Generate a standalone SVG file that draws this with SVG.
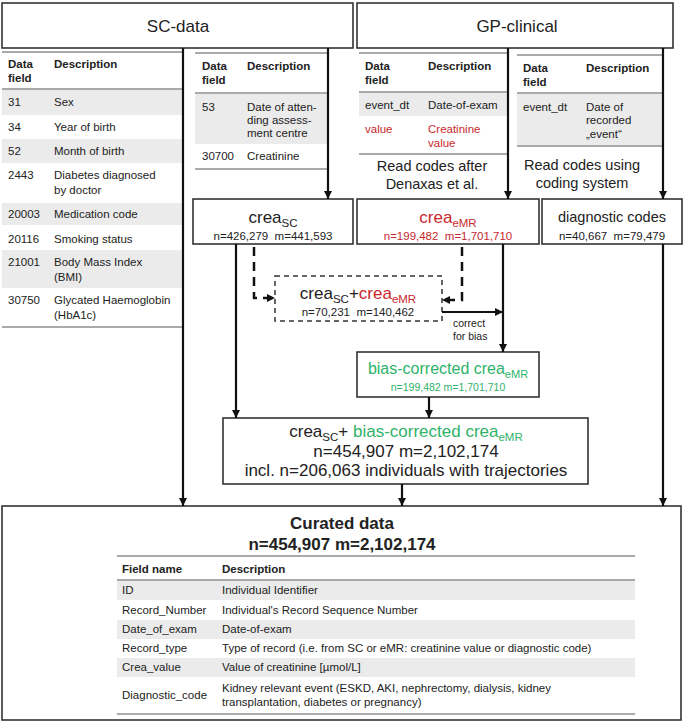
<svg xmlns="http://www.w3.org/2000/svg" width="685" height="724" viewBox="0 0 685 724">
<defs>
<marker id="ah" viewBox="0 0 10 10" refX="10" refY="5" markerWidth="8" markerHeight="9" markerUnits="userSpaceOnUse" orient="auto">
<path d="M0,0 L10,5 L0,10 z" fill="#111"/>
</marker>
<style>
text{font-family:"Liberation Sans",Arial,sans-serif;fill:#222}
.t{font-size:11.5px}
.h{font-size:11.5px;font-weight:bold}
.big{font-size:17px}
.mid{font-size:14.5px}
.red{fill:#c8282d}
.grn{fill:#2fb36a}
.box{fill:#fff;stroke:#333;stroke-width:1.6}
.dbox{fill:#fff;stroke:#333;stroke-width:1.5;stroke-dasharray:5 4}
.sh{fill:#ebebeb}
.gl{stroke:#aaa;stroke-width:2}
.c{fill:none;stroke:#111;stroke-width:2.2;marker-end:url(#ah)}
.d{fill:none;stroke:#111;stroke-width:2.5;stroke-dasharray:9 6;marker-end:url(#ah)}
.m{text-anchor:middle}
</style>
</defs>
<rect width="685" height="724" fill="#fff"/>

<g id="sc-data">
<rect class="box" x="2" y="3" width="351" height="45"/>
<text class="big m" x="178" y="32">SC-data</text>
</g>
<g id="gp-clinical">
<rect class="box" x="357" y="3" width="316" height="45"/>
<text class="big m" x="517" y="32">GP-clinical</text>
</g>

<g id="sc-table-left">
<rect class="sh" x="2" y="89" width="181" height="26"/>
<rect class="sh" x="2" y="139" width="181" height="24"/>
<rect class="sh" x="2" y="203" width="181" height="22"/>
<rect class="sh" x="2" y="250" width="181" height="38"/>
<line class="gl" x1="2" y1="52" x2="183" y2="52"/>
<line class="gl" x1="2" y1="89" x2="183" y2="89"/>
<line class="gl" x1="2" y1="327" x2="183" y2="327"/>
<text class="h" x="8" y="68">Data</text><text class="h" x="8" y="82">field</text>
<text class="h" x="54" y="68">Description</text>
<text class="t" x="8" y="106">31</text><text class="t" x="54" y="106">Sex</text>
<text class="t" x="8" y="131">34</text><text class="t" x="54" y="131">Year of birth</text>
<text class="t" x="8" y="155">52</text><text class="t" x="54" y="155">Month of birth</text>
<text class="t" x="8" y="179">2443</text><text class="t" x="54" y="179">Diabetes diagnosed</text><text class="t" x="54" y="194">by doctor</text>
<text class="t" x="8" y="218">20003</text><text class="t" x="54" y="218">Medication code</text>
<text class="t" x="8" y="243">20116</text><text class="t" x="54" y="243">Smoking status</text>
<text class="t" x="8" y="266">21001</text><text class="t" x="54" y="266">Body Mass Index</text><text class="t" x="54" y="281">(BMI)</text>
<text class="t" x="8" y="304">30750</text><text class="t" x="54" y="304">Glycated Haemoglobin</text><text class="t" x="54" y="319">(HbA1c)</text>
</g>

<g id="sc-table-mid">
<rect class="sh" x="195" y="93" width="132" height="51"/>
<line class="gl" x1="195" y1="53" x2="327" y2="53"/>
<line class="gl" x1="195" y1="93" x2="327" y2="93"/>
<line class="gl" x1="195" y1="169" x2="327" y2="169"/>
<text class="h" x="202" y="70">Data</text><text class="h" x="202" y="84">field</text>
<text class="h" x="247" y="70">Description</text>
<text class="t" x="202" y="111">53</text><text class="t" x="247" y="111">Date of atten-</text><text class="t" x="247" y="124">ding assess-</text><text class="t" x="247" y="137">ment centre</text>
<text class="t" x="202" y="160">30700</text><text class="t" x="247" y="160">Creatinine</text>
</g>

<g id="gp-table-mid">
<rect class="sh" x="359" y="92" width="148" height="24"/>
<line class="gl" x1="359" y1="53" x2="507" y2="53"/>
<line class="gl" x1="359" y1="92" x2="507" y2="92"/>
<line class="gl" x1="359" y1="154" x2="507" y2="154"/>
<text class="h" x="365" y="70">Data</text><text class="h" x="365" y="84">field</text>
<text class="h" x="428" y="70">Description</text>
<text class="t" x="365" y="109">event_dt</text><text class="t" x="428" y="109">Date-of-exam</text>
<text class="t red" x="365" y="133">value</text><text class="t red" x="428" y="133">Creatinine</text><text class="t red" x="428" y="147">value</text>
<text class="mid m" x="432" y="171">Read codes after</text>
<text class="mid m" x="432" y="189">Denaxas et al.</text>
</g>

<g id="gp-table-right">
<rect class="sh" x="517" y="93" width="146" height="53"/>
<line class="gl" x1="517" y1="55" x2="663" y2="55"/>
<line class="gl" x1="517" y1="93" x2="663" y2="93"/>
<line class="gl" x1="517" y1="146" x2="663" y2="146"/>
<text class="h" x="523" y="72">Data</text><text class="h" x="523" y="86">field</text>
<text class="h" x="586" y="72">Description</text>
<text class="t" x="523" y="111">event_dt</text><text class="t" x="586" y="111">Date of</text><text class="t" x="586" y="124">recorded</text><text class="t" x="586" y="138">„event“</text>
<text class="mid m" x="582" y="170">Read codes using</text>
<text class="mid m" x="582" y="188">coding system</text>
</g>

<g id="crea-sc">
<rect class="box" x="193" y="199" width="160" height="45"/>
<text class="big m" x="273" y="223">crea<tspan font-size="11.5" dy="4">SC</tspan></text>
<text class="t m" x="273" y="240">n=426,279&#160;&#160;m=441,593</text>
</g>

<g id="crea-emr">
<rect class="box" x="357" y="199" width="182" height="45"/>
<text class="big m red" x="448" y="223">crea<tspan font-size="11.5" dy="4">eMR</tspan></text>
<text class="t m red" x="448" y="240">n=199,482&#160;&#160;m=1,701,710</text>
</g>

<g id="diagnostic-codes">
<rect class="box" x="542" y="199" width="140" height="45"/>
<text class="m" x="612" y="222" font-size="14.5">diagnostic codes</text>
<text class="t m" x="612" y="240">n=40,667&#160;&#160;m=79,479</text>
</g>

<g id="crea-sc-emr">
<rect class="dbox" x="275" y="276" width="167" height="45"/>
<text class="big m" x="358" y="299">crea<tspan font-size="11.5" dy="4">SC</tspan><tspan dy="-4">+</tspan><tspan class="red">crea</tspan><tspan class="red" font-size="11.5" dy="4">eMR</tspan></text>
<text class="t m" x="358" y="316">n=70,231&#160;&#160;m=140,462</text>
</g>

<g id="bias-corrected">
<rect class="box" x="357" y="352" width="182" height="45"/>
<text class="m grn" x="448" y="374" font-size="16">bias-corrected crea<tspan font-size="11" dy="4">eMR</tspan></text>
<text class="m grn" x="448" y="391" font-size="10.5">n=199,482 m=1,701,710</text>
</g>

<g id="combined">
<rect class="box" x="223" y="418" width="365" height="66"/>
<text class="big m" x="406" y="437">crea<tspan font-size="11.5" dy="4">SC</tspan><tspan dy="-4">+&#160;</tspan><tspan class="grn">bias-corrected crea</tspan><tspan class="grn" font-size="11.5" dy="4">eMR</tspan></text>
<text class="big m" x="406" y="457">n=454,907 m=2,102,174</text>
<text class="big m" x="406" y="476">incl. n=206,063 individuals with trajectories</text>
</g>

<g id="curated-data">
<rect class="box" x="2" y="506" width="679" height="214"/>
<text class="m" x="342" y="529" font-size="17" font-weight="bold">Curated data</text>
<text class="m" x="342" y="550" font-size="17" font-weight="bold">n=454,907 m=2,102,174</text>
<rect class="sh" x="117" y="580" width="518" height="20"/>
<rect class="sh" x="117" y="620" width="518" height="19"/>
<rect class="sh" x="117" y="658" width="518" height="19"/>
<line class="gl" x1="117" y1="556" x2="635" y2="556"/>
<line class="gl" x1="117" y1="580" x2="635" y2="580"/>
<line class="gl" x1="117" y1="714" x2="635" y2="714" stroke-width="2.5"/>
<text class="h" x="122" y="573">Field name</text><text class="h" x="222" y="573">Description</text>
<text class="t" x="122" y="594">ID</text><text class="t" x="222" y="594">Individual Identifier</text>
<text class="t" x="122" y="614">Record_Number</text><text class="t" x="222" y="614">Individual's Record Sequence Number</text>
<text class="t" x="122" y="633">Date_of_exam</text><text class="t" x="222" y="633">Date-of-exam</text>
<text class="t" x="122" y="652">Record_type</text><text class="t" x="222" y="652">Type of record (i.e. from SC or eMR: creatinine value or diagnostic code)</text>
<text class="t" x="122" y="671">Crea_value</text><text class="t" x="222" y="671">Value of creatinine [µmol/L]</text>
<text class="t" x="122" y="699">Diagnostic_code</text><text class="t" x="222" y="692">Kidney relevant event (ESKD, AKI, nephrectomy, dialysis, kidney</text><text class="t" x="222" y="706">transplantation, diabetes or pregnancy)</text>
</g>

<g id="connectors">
<path class="c" d="M183,48 V506"/>
<path class="c" d="M328,48 V199"/>
<path class="c" d="M508,48 V199"/>
<path class="c" d="M663,48 V199"/>
<path class="c" d="M236,244 V418"/>
<path class="d" d="M254,247 V298 H275"/>
<path class="d" d="M462,247 V300 H442"/>
<path class="c" d="M503,244 V352"/>
<path class="c" d="M442,312 H503"/>
<path class="c" d="M429,397 V418"/>
<path class="c" d="M402,484 V506"/>
<path class="c" d="M663,244 V506"/>
<text x="453" y="327" font-size="10.5">correct</text>
<text x="453" y="340" font-size="10.5">for bias</text>
</g>
</svg>
